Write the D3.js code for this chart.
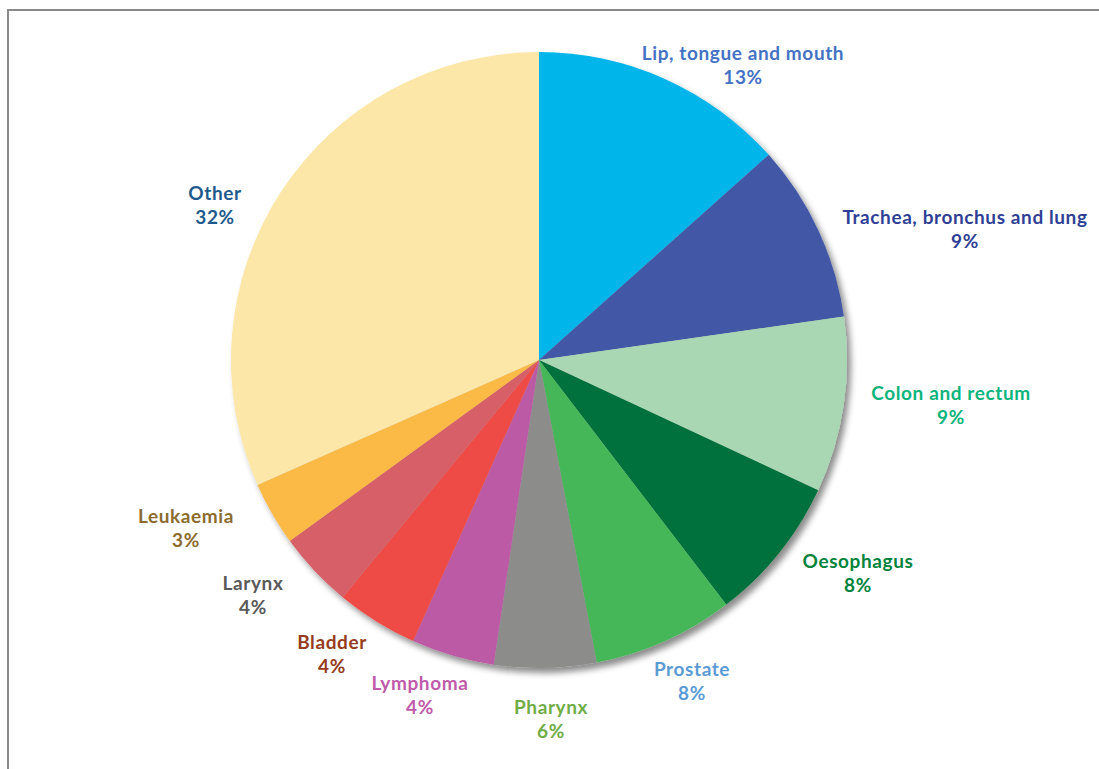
<!DOCTYPE html>
<html>
<head>
<meta charset="utf-8">
<script src="https://cdn.jsdelivr.net/npm/d3@7"></script>
<style>
html,body{margin:0;padding:0;background:#fff;}
svg{display:block;}
</style>
</head>
<body>
<svg id="chart" width="1099" height="769"></svg>
<script>
// ---- data ----
const categories = ["Lip, tongue and mouth","Trachea, bronchus and lung","Colon and rectum","Oesophagus","Prostate","Pharynx","Lymphoma","Bladder","Larynx","Leukaemia","Other"];
const values = [13.4, 9.35, 9.2, 7.65, 7.4, 5.35, 4.35, 4.3, 4.0, 3.35, 31.65];
const percentLabels = ["13%","9%","9%","8%","8%","6%","4%","4%","4%","3%","32%"];

// ---- styles ----
const sliceColors = ["#00B5EA","#4358A6","#A9D7B3","#00703C","#45B758","#8C8C8A","#BD5AA5","#EE4B47","#D65F68","#FBB945","#FCE7A8"];
const labelColors = ["#4472C4","#2F3F96","#0BB47A","#00843D","#5B9BD5","#70AD47","#C05AAA","#963C20","#595959","#8C6B2E","#1F5A8C"];
// label block centre offsets from pie centre (layout)
const labelOffsets = {
  "Lip, tongue and mouth":[204,-296],
  "Trachea, bronchus and lung":[426,-132],
  "Colon and rectum":[412,44],
  "Oesophagus":[319,212],
  "Prostate":[153,320],
  "Pharynx":[12,358],
  "Lymphoma":[-119,334],
  "Bladder":[-207,293],
  "Larynx":[-286,234],
  "Leukaemia":[-353,167],
  "Other":[-324,-156]
};

const svg = d3.select("#chart");
const cx = 539, cy = 360, R = 308;

// frame
svg.append("rect").attr("x",8).attr("y",10).attr("width",1200).attr("height",900)
  .attr("fill","none").attr("stroke","#8a8a8a").attr("stroke-width",2);

const defs = svg.append("defs");
const f = defs.append("filter").attr("id","shadow").attr("x","-20%").attr("y","-20%").attr("width","140%").attr("height","140%");
f.append("feDropShadow").attr("dx",4).attr("dy",5).attr("stdDeviation",3).attr("flood-color","#000").attr("flood-opacity",0.45);

const data = categories.map((c,i)=>({name:c, value:values[i], pct:percentLabels[i], color:sliceColors[i], lc:labelColors[i]}));
const pie = d3.pie().value(d=>d.value).sort(null).startAngle(0).endAngle(2*Math.PI);
const arc = d3.arc().innerRadius(0).outerRadius(R);

const g = svg.append("g").attr("transform",`translate(${cx},${cy})`);
const pg = g.append("g").attr("filter","url(#shadow)");
pg.selectAll("path").data(pie(data)).join("path")
  .attr("d",arc).attr("fill",d=>d.data.color);

const lg = g.append("g").attr("font-family","Lato, 'Open Sans', sans-serif").attr("font-weight","bold")
  .attr("font-size",19).attr("letter-spacing","0.6px");
data.forEach(d=>{
  const [dx,dy] = labelOffsets[d.name];
  const t = lg.append("text").attr("text-anchor","middle").attr("fill",d.lc);
  t.append("tspan").attr("x",dx).attr("y",dy-12).attr("dominant-baseline","central").text(d.name);
  t.append("tspan").attr("x",dx).attr("y",dy+12).attr("dominant-baseline","central").text(d.pct);
});
</script>
</body>
</html>
